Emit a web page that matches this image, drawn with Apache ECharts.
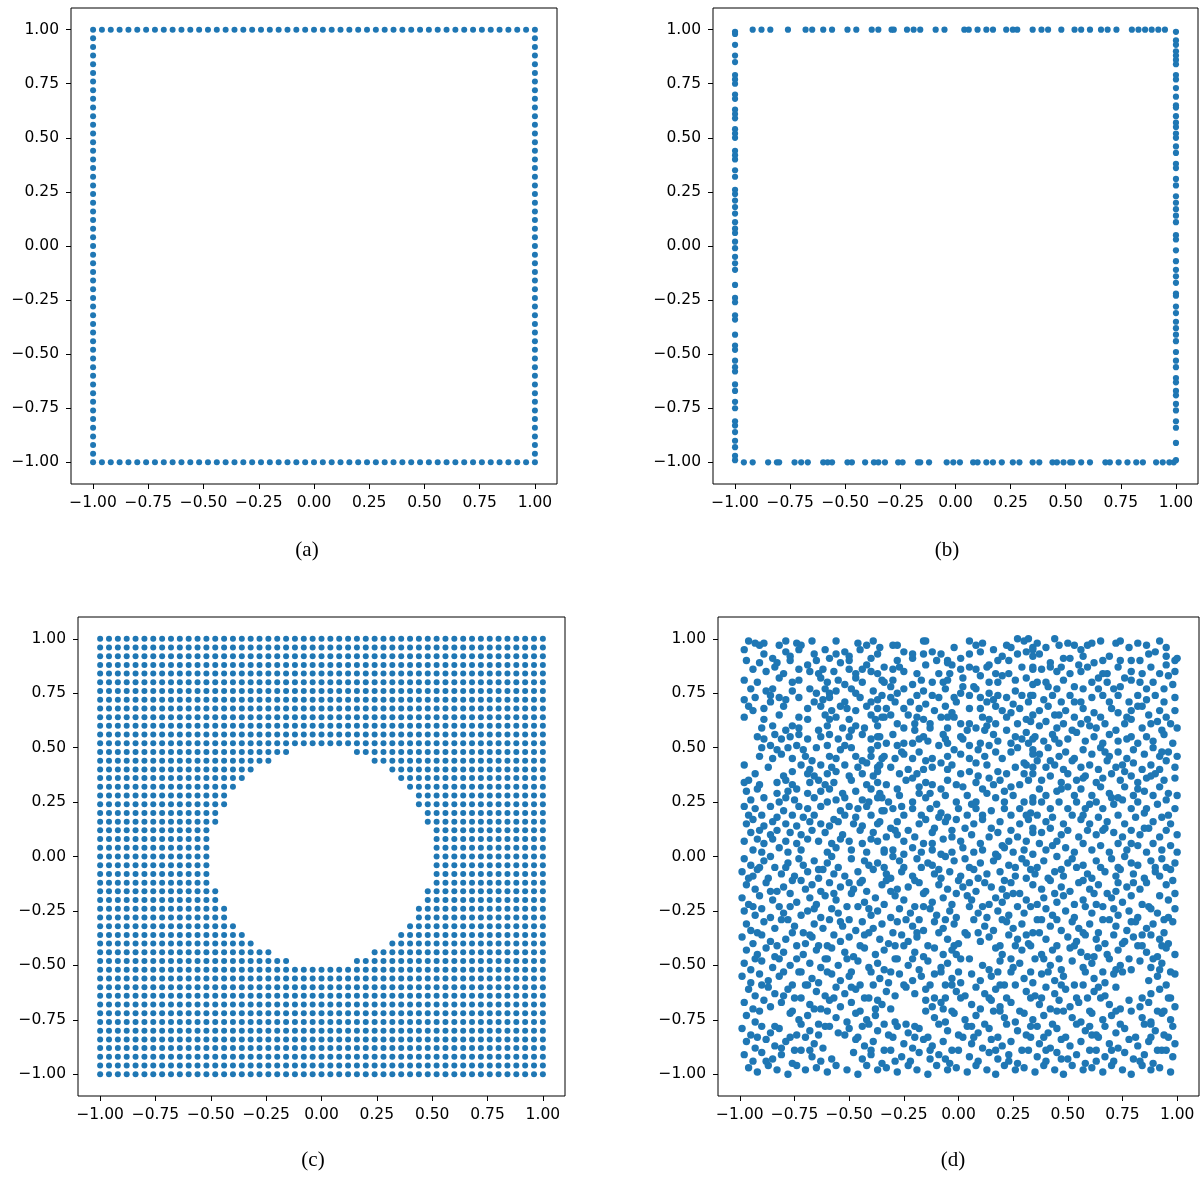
<!DOCTYPE html>
<html>
<head>
<meta charset="utf-8">
<script src="https://cdn.jsdelivr.net/npm/echarts@6/dist/echarts.min.js"></script>
<style>
  html, body { margin: 0; padding: 0; background: #fff; }
  #main { width: 1204px; height: 1179px; }
</style>
</head>
<body>
<div id="main"></div>
<script>
// Shared tick positions for every axis
const tickValues = [-1, -0.75, -0.5, -0.25, 0, 0.25, 0.5, 0.75, 1];

// Regular lattice coordinates (step 0.04) used by panels (a) and (c)
const latticeSteps = [-1, -0.96, -0.92, -0.88, -0.84, -0.8, -0.76, -0.72, -0.68, -0.64, -0.6, -0.56, -0.52,
  -0.48, -0.44, -0.4, -0.36, -0.32, -0.28, -0.24, -0.2, -0.16, -0.12, -0.08, -0.04, 0, 0.04, 0.08, 0.12,
  0.16, 0.2, 0.24, 0.28, 0.32, 0.36, 0.4, 0.44, 0.48, 0.52, 0.56, 0.6, 0.64, 0.68, 0.72, 0.76, 0.8, 0.84,
  0.88, 0.92, 0.96, 1];

// Radius of the circular hole in panel (c)
const holeRadiusC = 0.5;

// Panel (b): sampled boundary positions
const boundaryTopB = [-0.92, -0.88, -0.84, -0.76, -0.68, -0.65, -0.60, -0.56, -0.49, -0.45, -0.38, -0.35, -0.29,
  -0.28, -0.22, -0.19, -0.16, -0.09, -0.05, 0.04, 0.06, 0.10, 0.14, 0.17, 0.23, 0.26, 0.28, 0.35, 0.39, 0.42,
  0.48, 0.54, 0.57, 0.61, 0.66, 0.69, 0.73, 0.80, 0.83, 0.86, 0.89, 0.92, 0.95];
const boundaryBottomB = [-0.96, -0.92, -0.85, -0.81, -0.80, -0.73, -0.70, -0.67, -0.60, -0.58, -0.56, -0.49, -0.47,
  -0.41, -0.37, -0.35, -0.32, -0.26, -0.24, -0.17, -0.16, -0.12, -0.04, -0.01, 0.02, 0.08, 0.10, 0.14, 0.17, 0.21,
  0.26, 0.29, 0.35, 0.38, 0.44, 0.46, 0.49, 0.52, 0.53, 0.57, 0.61, 0.68, 0.70, 0.74, 0.78, 0.82, 0.85, 0.91,
  0.94, 0.97, 0.99];
const boundaryLeftB = [0.99, 0.98, 0.93, 0.88, 0.85, 0.79, 0.77, 0.75, 0.70, 0.68, 0.63, 0.61, 0.59, 0.54, 0.52,
  0.50, 0.44, 0.42, 0.40, 0.35, 0.32, 0.26, 0.24, 0.21, 0.18, 0.15, 0.11, 0.08, 0.06, 0.02, -0.01, -0.05, -0.08,
  -0.11, -0.18, -0.24, -0.26, -0.32, -0.34, -0.41, -0.46, -0.48, -0.53, -0.56, -0.58, -0.64, -0.67, -0.72, -0.75,
  -0.81, -0.83, -0.86, -0.90, -0.93, -0.97, -0.99];
const boundaryRightB = [0.99, 0.95, 0.93, 0.90, 0.88, 0.86, 0.84, 0.79, 0.77, 0.73, 0.69, 0.65, 0.64, 0.60, 0.57,
  0.55, 0.52, 0.50, 0.46, 0.43, 0.38, 0.36, 0.31, 0.28, 0.23, 0.20, 0.17, 0.14, 0.11, 0.05, 0.03, -0.02, -0.07,
  -0.11, -0.14, -0.17, -0.22, -0.23, -0.28, -0.31, -0.35, -0.38, -0.41, -0.44, -0.49, -0.53, -0.56, -0.61, -0.63,
  -0.67, -0.69, -0.73, -0.76, -0.81, -0.84, -0.91, -0.99];

// Panel (d): scattered samples, in hundredths, upper half (y >= 0)
const scatterUpperD = [
[-96,99],[-93,98],[-91,97],[-89,98],[-82,97],[-79,99],[-74,98],[-72,97],[-67,99],[-56,99],[-46,98],[-42,97],[-39,99],
[-98,95],[-89,93],[-79,94],[-77,92],[-73,95],[-66,93],[-61,95],[-56,93],[-52,94],[-50,92],[-45,95],[-37,93],
[-97,90],[-91,89],[-85,91],[-83,89],[-77,90],[-69,88],[-65,90],[-59,91],[-54,89],[-50,90],[-42,88],[-40,91],
[-94,86],[-88,85],[-84,87],[-80,84],[-73,86],[-68,85],[-64,84],[-62,86],[-57,85],[-50,86],[-47,84],[-44,86],[-40,85],[-37,84],
[-98,81],[-92,80],[-82,82],[-76,80],[-73,81],[-63,82],[-60,80],[-55,81],[-52,79],[-47,82],[-44,80],[-35,81],
[-95,77],[-88,76],[-86,74],[-85,77],[-76,76],[-68,77],[-65,75],[-61,77],[-59,75],[-56,76],[-49,77],[-47,75],[-39,76],
[-98,72],[-93,73],[-86,71],[-82,73],[-79,72],[-73,73],[-66,71],[-62,72],[-59,73],[-52,71],[-45,73],[-40,71],[-37,72],
[-96,69],[-94,67],[-89,68],[-80,69],[-69,68],[-63,69],[-58,67],[-54,69],[-51,68],[-47,67],[-42,69],[-37,68],
[-98,64],[-89,63],[-82,65],[-73,64],[-69,63],[-61,65],[-59,63],[-56,64],[-50,63],[-40,65],[-38,63],[-35,64],
[-90,59],[-85,60],[-79,58],[-76,60],[-73,59],[-64,58],[-60,60],[-53,59],[-49,58],[-47,60],[-43,59],[-37,60],
[-92,55],[-89,54],[-84,56],[-81,54],[-77,55],[-73,56],[-69,54],[-63,55],[-59,56],[-55,54],[-50,55],[-44,56],[-40,54],[-37,55],
[-90,50],[-86,51],[-83,49],[-78,50],[-74,51],[-71,49],[-65,50],[-60,51],[-54,49],[-52,51],[-49,50],[-40,49],[-37,51],
[-91,46],[-85,45],[-81,47],[-76,45],[-70,46],[-67,44],[-59,46],[-56,45],[-47,46],[-44,44],[-40,46],[-35,45],
[-98,42],[-87,41],[-72,42],[-68,40],[-63,42],[-58,41],[-52,42],[-46,41],[-42,43],[-37,41],
[-93,38],[-80,37],[-76,39],[-69,38],[-66,37],[-60,38],[-56,39],[-50,37],[-44,38],[-39,37],[-37,39],
[-98,34],[-96,35],[-91,33],[-83,34],[-79,35],[-76,33],[-68,34],[-64,35],[-61,33],[-57,34],[-49,35],[-42,33],[-37,34],
[-97,30],[-92,31],[-83,29],[-78,30],[-74,31],[-69,29],[-63,30],[-59,31],[-53,29],[-47,30],[-40,31],[-36,29],
[-95,26],[-89,27],[-82,25],[-79,27],[-75,26],[-66,27],[-60,25],[-56,26],[-52,27],[-44,26],[-41,25],[-37,27],
[-98,23],[-93,22],[-86,23],[-80,21],[-73,23],[-69,22],[-63,23],[-54,21],[-50,23],[-46,22],[-42,23],[-35,21],
[-96,19],[-94,17],[-90,19],[-83,18],[-76,19],[-71,18],[-66,19],[-57,17],[-52,19],[-47,18],[-40,19],
[-97,15],[-89,14],[-85,16],[-79,15],[-74,14],[-68,16],[-63,15],[-59,14],[-55,16],[-48,15],[-44,14],[-37,15],
[-95,11],[-91,12],[-86,10],[-83,12],[-77,11],[-72,10],[-67,12],[-61,11],[-53,10],[-45,12],[-39,11],
[-98,7],[-92,8],[-89,6],[-85,8],[-79,7],[-74,6],[-69,8],[-64,7],[-58,6],[-54,8],[-50,7],[-44,6],[-40,8],[-37,7],
[-94,3],[-90,2],[-82,4],[-78,2],[-72,3],[-60,2],[-56,4],[-49,3],[-42,2],[-34,3],
[-30,97],[-28,97],[-25,94],[-16,99],[-15,99],[-21,93],[-12,94],[-8,93],[5,99],[8,97],[11,98],[10,94],[22,97],[24,96],[27,100],[30,99],[32,100],[34,96],[-36,96],
[-21,91],[-16,93],[-5,90],[-3,88],[5,93],[14,88],[18,90],[20,92],[23,90],[27,93],[31,94],[34,92],
[-34,87],[-30,86],[-27,87],[-25,85],[-19,84],[-15,88],[-10,90],[-5,89],[-4,84],[1,86],[5,87],[8,86],[13,87],[17,84],[23,84],[29,87],[34,86],
[-34,80],[-30,81],[-25,77],[-21,79],[-17,81],[-12,80],[-7,80],[-5,81],[2,82],[7,78],[10,83],[14,80],[18,80],[26,81],[31,82],[34,79],
[-35,74],[-31,73],[-28,75],[-19,74],[-16,76],[-12,74],[-9,73],[-6,77],[-2,73],[1,75],[5,74],[8,77],[10,73],[14,75],[18,74],[22,73],[26,76],[29,74],[33,74],
[-33,68],[-29,71],[-25,68],[-18,68],[-15,70],[-11,67],[-6,69],[-1,71],[5,68],[10,68],[13,71],[17,69],[20,67],[25,70],[28,68],[32,71],
[-34,64],[-31,65],[-28,61],[-23,65],[-19,64],[-16,63],[-13,61],[-8,64],[-5,64],[-2,64],[1,61],[5,61],[11,64],[14,63],[17,61],[22,64],[27,61],[31,63],[34,65],
[-36,55],[-30,56],[-25,59],[-20,58],[-16,55],[-13,59],[-7,56],[-5,59],[1,55],[4,58],[8,59],[12,58],[16,56],[22,58],[26,55],[31,57],
[-33,52],[-28,51],[-25,52],[-21,52],[-18,54],[-14,53],[-9,51],[-5,52],[-2,49],[2,54],[5,51],[10,52],[14,51],[18,53],[24,52],[27,50],[32,52],[34,54],
[-34,46],[-29,45],[-25,47],[-21,45],[-18,48],[-15,44],[-12,45],[-5,46],[1,47],[5,45],[8,43],[12,46],[17,48],[20,45],[24,48],[30,43],[34,47],
[-36,42],[-31,41],[-27,38],[-23,40],[-19,38],[-16,40],[-12,41],[-5,40],[-3,42],[1,38],[5,39],[9,37],[13,42],[18,39],[22,38],[26,41],[30,38],[34,41],
[-33,33],[-28,31],[-24,35],[-18,32],[-15,34],[-12,33],[-8,31],[-5,35],[-1,33],[2,32],[8,34],[11,31],[16,33],[19,35],[24,32],[28,33],[32,35],
[-35,27],[-32,25],[-27,28],[-21,25],[-18,29],[-15,27],[-10,24],[-6,28],[-1,25],[4,28],[8,25],[13,29],[17,27],[21,25],[25,28],[30,25],[34,27],
[-34,21],[-30,22],[-25,19],[-21,22],[-17,19],[-13,22],[-8,20],[-5,18],[0,22],[4,19],[8,22],[11,19],[15,21],[21,22],[24,19],[28,22],[33,20],
[-36,16],[-31,13],[-28,16],[-23,12],[-18,15],[-15,17],[-11,13],[-6,16],[-1,17],[3,13],[7,15],[11,17],[15,13],[19,16],[24,12],[28,15],[32,17],
[-33,9],[-28,10],[-25,7],[-20,9],[-16,6],[-12,11],[-7,8],[-3,9],[1,7],[6,10],[10,6],[14,9],[18,11],[23,7],[27,9],[31,7],[34,11],
[-34,2],[-30,3],[-25,1],[-21,4],[-17,2],[-12,3],[-8,1],[-3,2],[2,4],[7,2],[11,3],[17,1],[21,4],[25,2],[30,3],[34,1],
[44,100],[36,98],[40,96],[46,97],[50,98],[53,97],[59,97],[61,98],[65,99],[72,98],[74,99],[82,98],[86,97],[92,99],[95,96],[34,95],
[62,89],[66,90],[74,90],[79,90],[83,90],[87,93],[90,94],[95,92],[99,90],[100,91],[37,93],[42,89],[48,91],[55,88],[57,92],
[34,87],[38,86],[42,87],[45,85],[47,87],[51,84],[56,85],[59,87],[64,82],[68,84],[73,87],[76,82],[79,85],[84,84],[88,87],[92,84],[95,88],[99,85],
[36,80],[40,80],[45,77],[48,81],[53,78],[57,77],[61,80],[68,80],[71,77],[74,78],[79,81],[83,80],[86,77],[89,80],[94,77],[98,79],
[34,74],[39,72],[43,74],[47,71],[51,74],[56,71],[61,73],[66,74],[69,71],[73,74],[78,71],[82,74],[86,72],[90,74],[94,71],[99,73],
[37,67],[41,69],[44,65],[49,67],[53,64],[57,68],[62,66],[65,64],[70,68],[73,66],[79,67],[82,69],[87,65],[92,67],[95,64],[99,67],
[33,62],[37,60],[40,62],[45,59],[48,61],[52,58],[56,61],[59,63],[63,59],[67,61],[72,58],[76,61],[79,63],[84,59],[88,61],[93,58],[97,61],[100,59],
[35,55],[39,53],[43,56],[46,52],[50,54],[54,57],[58,53],[62,55],[66,52],[69,56],[73,53],[77,54],[82,52],[86,55],[89,53],[94,56],[98,52],
[34,49],[37,47],[41,50],[46,46],[49,48],[53,45],[57,49],[61,47],[65,50],[69,46],[73,48],[77,45],[80,49],[85,47],[89,50],[92,46],[96,48],[100,46],
[36,44],[40,41],[44,42],[48,40],[52,44],[56,41],[60,42],[64,40],[68,44],[72,41],[76,39],[80,43],[84,40],[88,42],[92,40],[95,44],[99,41],
[34,38],[38,35],[42,37],[47,34],[50,38],[54,35],[58,37],[63,34],[66,36],[70,38],[74,35],[79,37],[82,34],[86,36],[90,38],[94,35],[99,36],
[37,31],[40,28],[45,30],[50,32],[53,28],[56,31],[61,28],[65,32],[69,29],[73,27],[76,32],[80,28],[85,30],[89,28],[92,32],[96,29],[100,28],
[34,25],[38,25],[42,22],[46,25],[50,22],[54,25],[58,22],[63,25],[66,22],[71,24],[75,26],[79,22],[82,25],[86,22],[91,24],[95,26],[99,22],
[36,19],[40,16],[43,18],[48,15],[52,19],[56,17],[60,15],[64,18],[68,16],[73,19],[76,15],[81,18],[85,20],[89,16],[93,18],[97,15],
[34,13],[38,11],[42,13],[47,10],[50,12],[55,9],[59,12],[63,10],[67,13],[71,11],[75,9],[79,12],[83,10],[87,13],[92,9],[95,12],[100,10],
[37,6],[40,3],[45,7],[49,4],[53,2],[57,6],[61,3],[65,5],[69,2],[73,6],[77,3],[82,5],[86,2],[89,6],[93,3],[97,5],[100,2],
[-2,96],[16,95],[56,95],[78,96],[-28,90],[1,91],[51,91],[69,92],[-9,84],[20,83],[66,84],[96,83],
[-31,78],[2,78],[41,78],[64,77],[-22,71],[16,72],[53,71],[84,69],[-3,66],[24,66],[46,65],[77,64],
[-20,61],[13,60],[60,60],[91,62],[-6,54],[29,54],[44,54],[79,55],[-26,48],[9,49],[67,48],[93,48],
[-8,43],[31,42],[42,44],[75,42],[-21,36],[14,36],[57,36],[88,37],[-13,29],[21,30],[47,31],[82,31],
[-26,23],[6,24],[60,24],[70,27],[-9,18],[31,19],[57,19],[96,19],[-29,12],[-3,12],[66,12],[85,13],
[-12,6],[20,5],[43,5],[79,6]
];

// Panel (d): scattered samples, in hundredths, lower half (y < 0)
const scatterLowerD = [
[-98,-1],[-95,-4],[-89,-2],[-86,0],[-84,-5],[-78,-3],[-73,-1],[-71,-4],[-66,-2],[-60,-3],[-58,0],[-55,-5],[-49,-1],[-43,-2],[-41,-4],[-37,-3],[-30,0],[-27,-2],[-25,-5],[-19,-1],[-14,-3],[-12,-4],[-6,0],[-2,-2],[3,-1],[5,-5],[10,-3],[16,-2],[18,0],[23,-4],[29,-1],[31,-3],[36,-5],[39,-2],[45,0],[50,-3],[52,-1],[57,-4],[63,-2],[65,-5],[70,-1],[76,0],[79,-3],[82,-4],[88,-2],[93,-1],[95,-5],[99,-3],
[-99,-7],[-94,-9],[-92,-6],[-87,-10],[-81,-8],[-79,-5],[-75,-9],[-69,-7],[-64,-10],[-62,-6],[-57,-8],[-52,-9],[-46,-7],[-44,-11],[-39,-6],[-33,-8],[-31,-10],[-26,-7],[-21,-9],[-17,-5],[-11,-8],[-8,-10],[-4,-7],[1,-9],[7,-6],[9,-10],[13,-8],[19,-7],[21,-11],[26,-9],[33,-6],[35,-8],[41,-10],[44,-7],[48,-9],[54,-5],[59,-8],[61,-10],[67,-7],[72,-9],[74,-6],[80,-8],[85,-10],[90,-7],[92,-9],[97,-6],
[-97,-13],[-93,-15],[-88,-12],[-83,-16],[-80,-14],[-76,-11],[-70,-15],[-67,-13],[-63,-16],[-59,-12],[-54,-14],[-48,-15],[-45,-12],[-42,-16],[-35,-13],[-33,-11],[-28,-15],[-23,-14],[-18,-12],[-15,-16],[-9,-13],[-5,-15],[0,-11],[2,-14],[8,-16],[12,-12],[15,-14],[20,-15],[24,-12],[28,-17],[34,-13],[38,-15],[42,-11],[47,-14],[51,-16],[55,-12],[60,-15],[64,-13],[68,-17],[73,-12],[77,-14],[83,-15],[86,-12],[95,-13],[98,-11],
[-99,-19],[-96,-22],[-91,-18],[-85,-20],[-82,-23],[-77,-17],[-74,-21],[-68,-19],[-65,-22],[-61,-18],[-56,-20],[-51,-23],[-49,-17],[-43,-21],[-38,-19],[-34,-22],[-29,-18],[-25,-20],[-20,-23],[-16,-17],[-12,-21],[-7,-19],[-3,-22],[4,-18],[6,-20],[11,-23],[17,-19],[20,-21],[25,-17],[31,-20],[33,-23],[39,-19],[45,-21],[48,-18],[53,-22],[57,-20],[62,-17],[66,-23],[70,-19],[75,-21],[79,-18],[84,-22],[96,-20],[99,-17],
[-98,-25],[-93,-27],[-90,-24],[-86,-28],[-80,-26],[-77,-23],[-72,-27],[-69,-25],[-63,-28],[-58,-24],[-55,-26],[-50,-29],[-46,-23],[-40,-27],[-37,-25],[-31,-28],[-27,-24],[-22,-26],[-18,-29],[-13,-24],[-10,-27],[-4,-25],[-1,-28],[5,-23],[9,-26],[13,-28],[18,-25],[23,-27],[27,-23],[30,-26],[36,-29],[40,-24],[43,-27],[49,-25],[53,-28],[58,-23],[61,-26],[66,-29],[71,-24],[73,-27],[78,-25],[82,-28],[87,-23],[91,-26],[94,-29],[99,-24],
[-97,-31],[-95,-34],[-89,-30],[-84,-33],[-81,-29],[-75,-32],[-71,-35],[-66,-31],[-62,-33],[-59,-29],[-53,-32],[-47,-34],[-44,-30],[-39,-33],[-35,-31],[-30,-35],[-24,-29],[-21,-32],[-16,-34],[-11,-30],[-7,-33],[-2,-31],[3,-35],[7,-29],[12,-32],[16,-34],[22,-30],[25,-33],[29,-31],[34,-35],[38,-29],[42,-32],[47,-34],[52,-30],[55,-33],[60,-31],[64,-35],[69,-29],[72,-32],[77,-34],[81,-30],[86,-33],[89,-31],[94,-35],[98,-30],
[-99,-37],[-94,-40],[-90,-36],[-86,-39],[-79,-38],[-76,-35],[-70,-40],[-67,-37],[-64,-41],[-57,-36],[-54,-39],[-50,-37],[-45,-41],[-41,-35],[-36,-38],[-32,-40],[-26,-36],[-23,-39],[-19,-37],[-14,-41],[-9,-35],[-5,-38],[0,-40],[4,-36],[10,-39],[14,-37],[19,-41],[23,-36],[27,-38],[32,-40],[37,-35],[40,-38],[45,-41],[50,-37],[54,-39],[57,-35],[63,-38],[67,-40],[71,-36],[76,-39],[80,-37],[84,-41],[88,-36],[92,-38],[96,-40],
[-97,-43],[-92,-45],[-88,-42],[-84,-46],[-80,-44],[-74,-41],[-71,-45],[-65,-43],[-61,-47],[-58,-42],[-52,-44],[-48,-46],[-43,-42],[-38,-45],[-34,-43],[-29,-47],[-25,-41],[-20,-44],[-16,-46],[-11,-42],[-7,-45],[-3,-43],[1,-47],[17,-42],[20,-45],[24,-47],[29,-43],[33,-41],[38,-45],[43,-43],[46,-47],[51,-42],[56,-44],[59,-46],[64,-42],[68,-45],[73,-43],[78,-47],[82,-41],[86,-44],[91,-46],[95,-42],[99,-45],
[-98,-49],[-95,-52],[-90,-48],[-85,-51],[-82,-47],[-77,-50],[-72,-53],[-68,-49],[-63,-51],[-60,-47],[-55,-50],[-49,-53],[-46,-48],[-41,-51],[-37,-49],[-31,-53],[-28,-47],[-23,-50],[-18,-52],[-14,-48],[-8,-51],[-5,-49],[0,-53],[5,-47],[11,-50],[14,-52],[19,-48],[25,-51],[28,-49],[33,-53],[39,-47],[42,-50],[47,-52],[52,-48],[57,-51],[61,-49],[66,-53],[69,-47],[74,-50],[79,-52],[83,-48],[88,-51],[93,-49],[97,-53],
[-99,-55],[-95,-58],[-91,-54],[-87,-57],[-82,-55],[-76,-59],[-73,-53],[-67,-56],[-64,-58],[-58,-54],[-54,-57],[-50,-55],[-45,-59],[-40,-53],[-36,-56],[-32,-58],[-27,-54],[-21,-57],[-17,-55],[-13,-59],[-8,-53],[-3,-56],[1,-58],[6,-54],[10,-57],[15,-55],[21,-59],[24,-53],[30,-56],[34,-58],[38,-54],[44,-57],[48,-55],[53,-59],[58,-53],[62,-56],[67,-58],[71,-54],[75,-53],[87,-57],[91,-55],[95,-59],[99,-54],
[-96,-61],[-93,-64],[-87,-60],[-84,-63],[-78,-61],[-75,-65],[-69,-59],[-65,-62],[-61,-64],[-56,-60],[-52,-63],[-47,-61],[-43,-65],[-39,-59],[-33,-62],[-29,-64],[-24,-60],[-20,-63],[-15,-61],[-11,-65],[-6,-59],[-1,-62],[3,-64],[8,-60],[12,-63],[17,-61],[22,-65],[26,-59],[31,-62],[35,-64],[40,-60],[44,-63],[49,-61],[54,-65],[57,-59],[62,-62],[67,-64],[72,-60],[88,-63],[92,-61],[97,-65],
[-98,-67],[-94,-70],[-89,-66],[-86,-69],[-81,-67],[-76,-71],[-72,-65],[-68,-68],[-63,-70],[-59,-66],[-54,-69],[-49,-67],[-45,-71],[-41,-65],[-35,-68],[-31,-70],[-15,-66],[-12,-69],[-8,-67],[-3,-71],[1,-65],[6,-68],[10,-70],[15,-66],[19,-69],[24,-67],[28,-71],[33,-65],[37,-68],[42,-70],[46,-66],[51,-69],[55,-67],[60,-71],[65,-65],[69,-68],[74,-70],[78,-66],[83,-69],[87,-67],[91,-71],[96,-65],[99,-69],
[-97,-73],[-93,-76],[-77,-72],[-73,-75],[-69,-73],[-64,-77],[-60,-71],[-56,-74],[-51,-76],[-47,-72],[-42,-75],[-38,-73],[-34,-77],[-29,-76],[-24,-77],[-15,-71],[-11,-74],[-6,-76],[-2,-72],[3,-75],[8,-73],[12,-77],[16,-71],[21,-74],[26,-76],[30,-72],[34,-75],[39,-73],[43,-77],[48,-71],[52,-74],[56,-76],[61,-72],[66,-75],[70,-73],[74,-77],[79,-71],[84,-74],[88,-76],[93,-72],[97,-75],
[-99,-79],[-95,-82],[-90,-78],[-86,-81],[-82,-79],[-77,-83],[-72,-77],[-68,-80],[-64,-82],[-59,-78],[-55,-81],[-50,-79],[-46,-83],[-41,-77],[-37,-80],[-32,-82],[-28,-78],[-23,-81],[-18,-79],[-14,-83],[-9,-77],[-5,-80],[0,-82],[4,-78],[9,-81],[14,-79],[18,-83],[22,-77],[27,-80],[31,-82],[36,-78],[41,-81],[45,-79],[49,-83],[54,-77],[58,-80],[63,-82],[67,-78],[72,-81],[76,-79],[81,-83],[85,-77],[90,-80],[94,-82],[98,-78],
[-97,-85],[-93,-88],[-88,-84],[-84,-87],[-79,-85],[-75,-89],[-70,-83],[-66,-86],[-62,-88],[-47,-84],[-43,-87],[-39,-85],[-34,-89],[-30,-83],[-25,-86],[-21,-88],[-16,-84],[-12,-87],[-7,-85],[-3,-89],[2,-83],[6,-86],[11,-88],[15,-84],[20,-87],[24,-85],[29,-89],[33,-83],[37,-86],[42,-88],[47,-84],[51,-87],[56,-85],[60,-89],[64,-83],[69,-86],[73,-88],[78,-84],[82,-87],[87,-85],[91,-89],[96,-83],[99,-86],
[-98,-91],[-94,-94],[-90,-90],[-85,-93],[-81,-91],[-76,-95],[-72,-89],[-67,-92],[-63,-94],[-48,-90],[-44,-93],[-40,-91],[-35,-95],[-31,-89],[-26,-92],[-22,-94],[-18,-90],[-13,-93],[-9,-91],[-4,-95],[0,-89],[5,-92],[9,-94],[14,-90],[18,-93],[23,-91],[27,-95],[32,-89],[36,-92],[40,-94],[45,-90],[50,-93],[54,-91],[58,-95],[63,-89],[67,-92],[71,-94],[76,-90],[80,-93],[85,-91],[89,-95],[93,-89],[98,-92],
[-96,-97],[-92,-99],[-87,-96],[-83,-98],[-78,-100],[-74,-96],[-70,-98],[-65,-97],[-60,-99],[-56,-96],[-51,-98],[-46,-100],[-42,-96],[-37,-98],[-33,-97],[-28,-99],[-23,-96],[-19,-98],[-14,-100],[-10,-96],[-5,-98],[-1,-97],[4,-99],[8,-96],[13,-98],[17,-100],[21,-96],[26,-98],[30,-97],[35,-99],[39,-96],[44,-98],[48,-100],[52,-96],[57,-98],[61,-97],[66,-99],[70,-96],[75,-98],[79,-100],[84,-96],[88,-98],[92,-97],[97,-99],
[-91,-5],[-64,-6],[-34,-5],[-9,-6],[26,-5],[47,-6],[73,-5],[90,-5],
[-96,-10],[-72,-11],[-50,-12],[-20,-11],[5,-12],[31,-10],[57,-11],[80,-12],
[-86,-16],[-57,-17],[-31,-16],[-1,-17],[22,-18],[44,-17],[72,-16],[92,-18],
[-94,-23],[-66,-24],[-41,-24],[-16,-23],[14,-22],[36,-22],[63,-22],[88,-24],
[-78,-29],[-54,-30],[-28,-30],[-6,-29],[20,-29],[45,-29],[79,-30],[96,-28],
[-92,-35],[-68,-36],[-43,-36],[-19,-35],[9,-35],[31,-36],[58,-36],[84,-36],
[-83,-41],[-60,-41],[-29,-41],[-2,-41],[26,-41],[53,-41],[75,-40],[93,-41],
[-93,-47],[-74,-47],[-51,-47],[-21,-47],[-1,-45],[35,-47],[62,-46],[89,-47],
[-80,-53],[-60,-53],[-34,-52],[-11,-54],[18,-53],[41,-53],[72,-52],[92,-52],
[-90,-59],[-70,-59],[-49,-60],[-25,-59],[-3,-59],[19,-59],[47,-59],[64,-60],
[-80,-64],[-57,-65],[-37,-66],[-6,-65],[14,-65],[38,-65],[59,-65],[84,-65],
[-91,-71],[-66,-70],[-38,-70],[-7,-70],[19,-71],[45,-71],[72,-71],[94,-71],
[-84,-78],[-61,-78],[-44,-78],[-20,-78],[6,-78],[33,-78],[60,-78],[88,-77],
[-92,-83],[-74,-82],[-52,-82],[-20,-83],[7,-83],[39,-83],[61,-82],[88,-83],
[-81,-88],[-68,-89],[-40,-89],[-13,-89],[17,-89],[40,-89],[70,-89],[95,-89],
[-88,-94],[-58,-93],[-29,-94],[-6,-93],[23,-94],[47,-93],[63,-94],[83,-94]
];

const captions = ['(a)', '(b)', '(c)', '(d)'];

// ---- build point sets ----
const lo = latticeSteps[0], hi = latticeSteps[latticeSteps.length - 1];

const pointsA = [];
latticeSteps.forEach(v => { pointsA.push([v, hi], [v, lo]); });
latticeSteps.slice(1, -1).forEach(v => { pointsA.push([lo, v], [hi, v]); });

const pointsB = [];
boundaryTopB.forEach(v => pointsB.push([v, 1]));
boundaryBottomB.forEach(v => pointsB.push([v, -1]));
boundaryLeftB.forEach(v => pointsB.push([-1, v]));
boundaryRightB.forEach(v => pointsB.push([1, v]));

const pointsC = [];
latticeSteps.forEach(x => latticeSteps.forEach(y => {
  if (x * x + y * y > holeRadiusC * holeRadiusC) pointsC.push([x, y]);
}));

const pointsD = scatterUpperD.concat(scatterLowerD).map(p => [p[0] / 100, p[1] / 100]);

// ---- chart ----
const fmt = v => (v < 0 ? '\u2212' : '') + Math.abs(v).toFixed(2);
const labelFont = { color: '#000', fontFamily: 'DejaVu Sans', fontSize: 15.5 };

const panels = [
  { grid: { left: 71, top: 8, width: 486, height: 476 }, data: pointsA, size: 6, cap: [307, 550] },
  { grid: { left: 713, top: 8, width: 485, height: 476 }, data: pointsB, size: 6.2, cap: [947, 550] },
  { grid: { left: 78, top: 617, width: 487, height: 479 }, data: pointsC, size: 6, cap: [313, 1160] },
  { grid: { left: 718, top: 617, width: 481, height: 479 }, data: pointsD, size: 7.4, cap: [953, 1160] }
];

const axisCommon = (i, isX) => ({
  gridIndex: i,
  type: 'value',
  min: -1.1,
  max: 1.1,
  splitLine: { show: false },
  axisLine: { show: false, onZero: false },
  axisTick: { show: true, length: 5, inside: false, lineStyle: { color: '#000', width: 1 }, customValues: tickValues },
  axisLabel: Object.assign({ customValues: tickValues, formatter: fmt, margin: isX ? 11 : 12, hideOverlap: false }, labelFont)
});

const option = {
  animation: false,
  backgroundColor: '#fff',
  grid: panels.map(p => Object.assign({
    show: true, borderColor: '#000', borderWidth: 1, backgroundColor: 'transparent',
    containLabel: false, outerBoundsMode: 'none'
  }, p.grid)),
  xAxis: panels.map((p, i) => Object.assign({ position: 'bottom' }, axisCommon(i, true))),
  yAxis: panels.map((p, i) => Object.assign({ position: 'left' }, axisCommon(i, false))),
  series: panels.map((p, i) => ({
    type: 'scatter',
    xAxisIndex: i,
    yAxisIndex: i,
    data: p.data,
    symbol: 'circle',
    symbolSize: p.size,
    itemStyle: { color: '#1f77b4', opacity: 1 },
    silent: true,
    progressive: 0,
    large: false
  })),
  graphic: panels.map((p, i) => ({
    type: 'text',
    x: p.cap[0],
    y: p.cap[1],
    style: {
      text: captions[i],
      font: '21px "Liberation Serif", "DejaVu Serif", serif',
      fill: '#000',
      align: 'center',
      verticalAlign: 'middle'
    }
  }))
};

const chart = echarts.init(document.getElementById('main'));
chart.setOption(option);
</script>
</body>
</html>
